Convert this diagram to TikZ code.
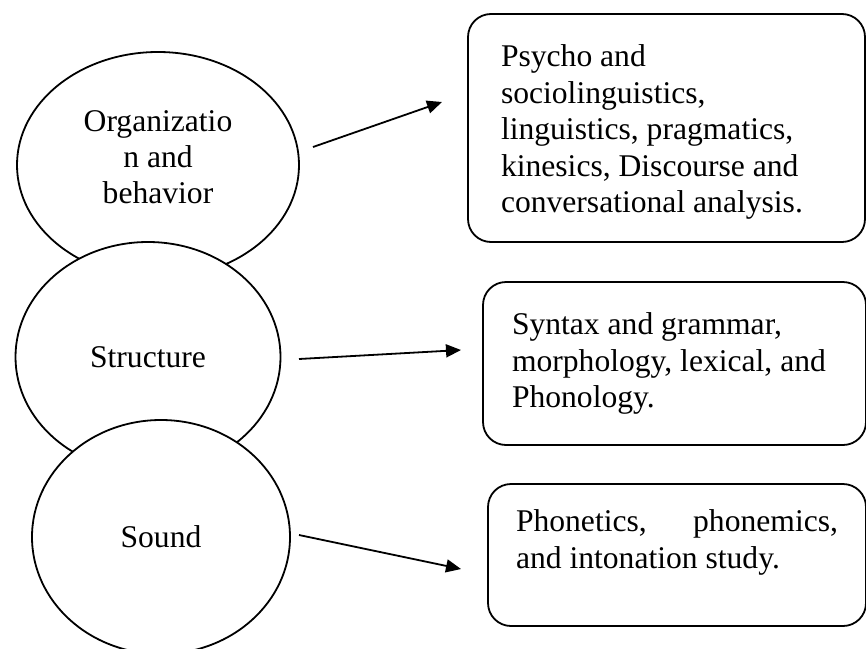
\documentclass[tikz,border=0pt]{standalone}
\usepackage{fontspec}
\setmainfont{Liberation Serif}
\usepackage{tikz}
\usetikzlibrary{shapes.geometric, arrows.meta}
\tikzstyle{topic} = [ellipse, draw=black, fill=white, line width=0.9pt, inner sep=0pt, align=center, font=\fontsize{15.8}{18}\selectfont]
\tikzstyle{field} = [rectangle, rounded corners=11.5pt, draw=black, fill=white, line width=0.9pt, inner sep=0pt, align=flush left, font=\fontsize{15.8}{18.3}\selectfont]
\tikzstyle{arrow} = [line width=0.9pt, -{Triangle[length=7.5pt, width=6.5pt]}]

\begin{document}
\begin{tikzpicture}[x=0.5pt, y=-0.5pt]
    \useasboundingbox (0,0) rectangle (866,648);

    % Levels (ellipses overlap, lower one drawn on top)
    \node (org) [topic, minimum width=141pt, minimum height=113pt, text depth=8pt] at (158,165) {Organizatio\\n and\\behavior};
    \node (struct) [topic, minimum width=132.5pt, minimum height=115pt] at (148,357) {Structure};
    \node (sound) [topic, minimum width=129pt, minimum height=117pt] at (161,537) {Sound};

    % Fields of study
    \node (social) [field, minimum width=198.5pt, minimum height=114pt, text width=165.5pt, text depth=72.5pt] at (666.5,128) {Psycho and\\sociolinguistics,\\linguistics, pragmatics,\\kinesics, Discourse and\\conversational analysis.};
    \node (grammar) [field, minimum width=191.5pt, minimum height=81.5pt, text width=162.5pt] at (674.5,363.5) {Syntax and grammar,\\morphology, lexical, and\\Phonology.};
    \node (phonetic) [field, minimum width=189pt, minimum height=71pt, text width=161pt, text depth=34pt] at (677,555) {Phonetics,\hfill phonemics,\\and intonation study.};

    % Arrow ends
    \coordinate (orgout) at (313,147);
    \coordinate (socialin) at (442,102);
    \coordinate (structout) at (299,359);
    \coordinate (grammarin) at (461,350);
    \coordinate (soundout) at (299,535);
    \coordinate (phoneticin) at (461,569);

    % Arrows
    \draw [arrow] (orgout) -- (socialin);
    \draw [arrow] (structout) -- (grammarin);
    \draw [arrow] (soundout) -- (phoneticin);

\end{tikzpicture}
\end{document}
